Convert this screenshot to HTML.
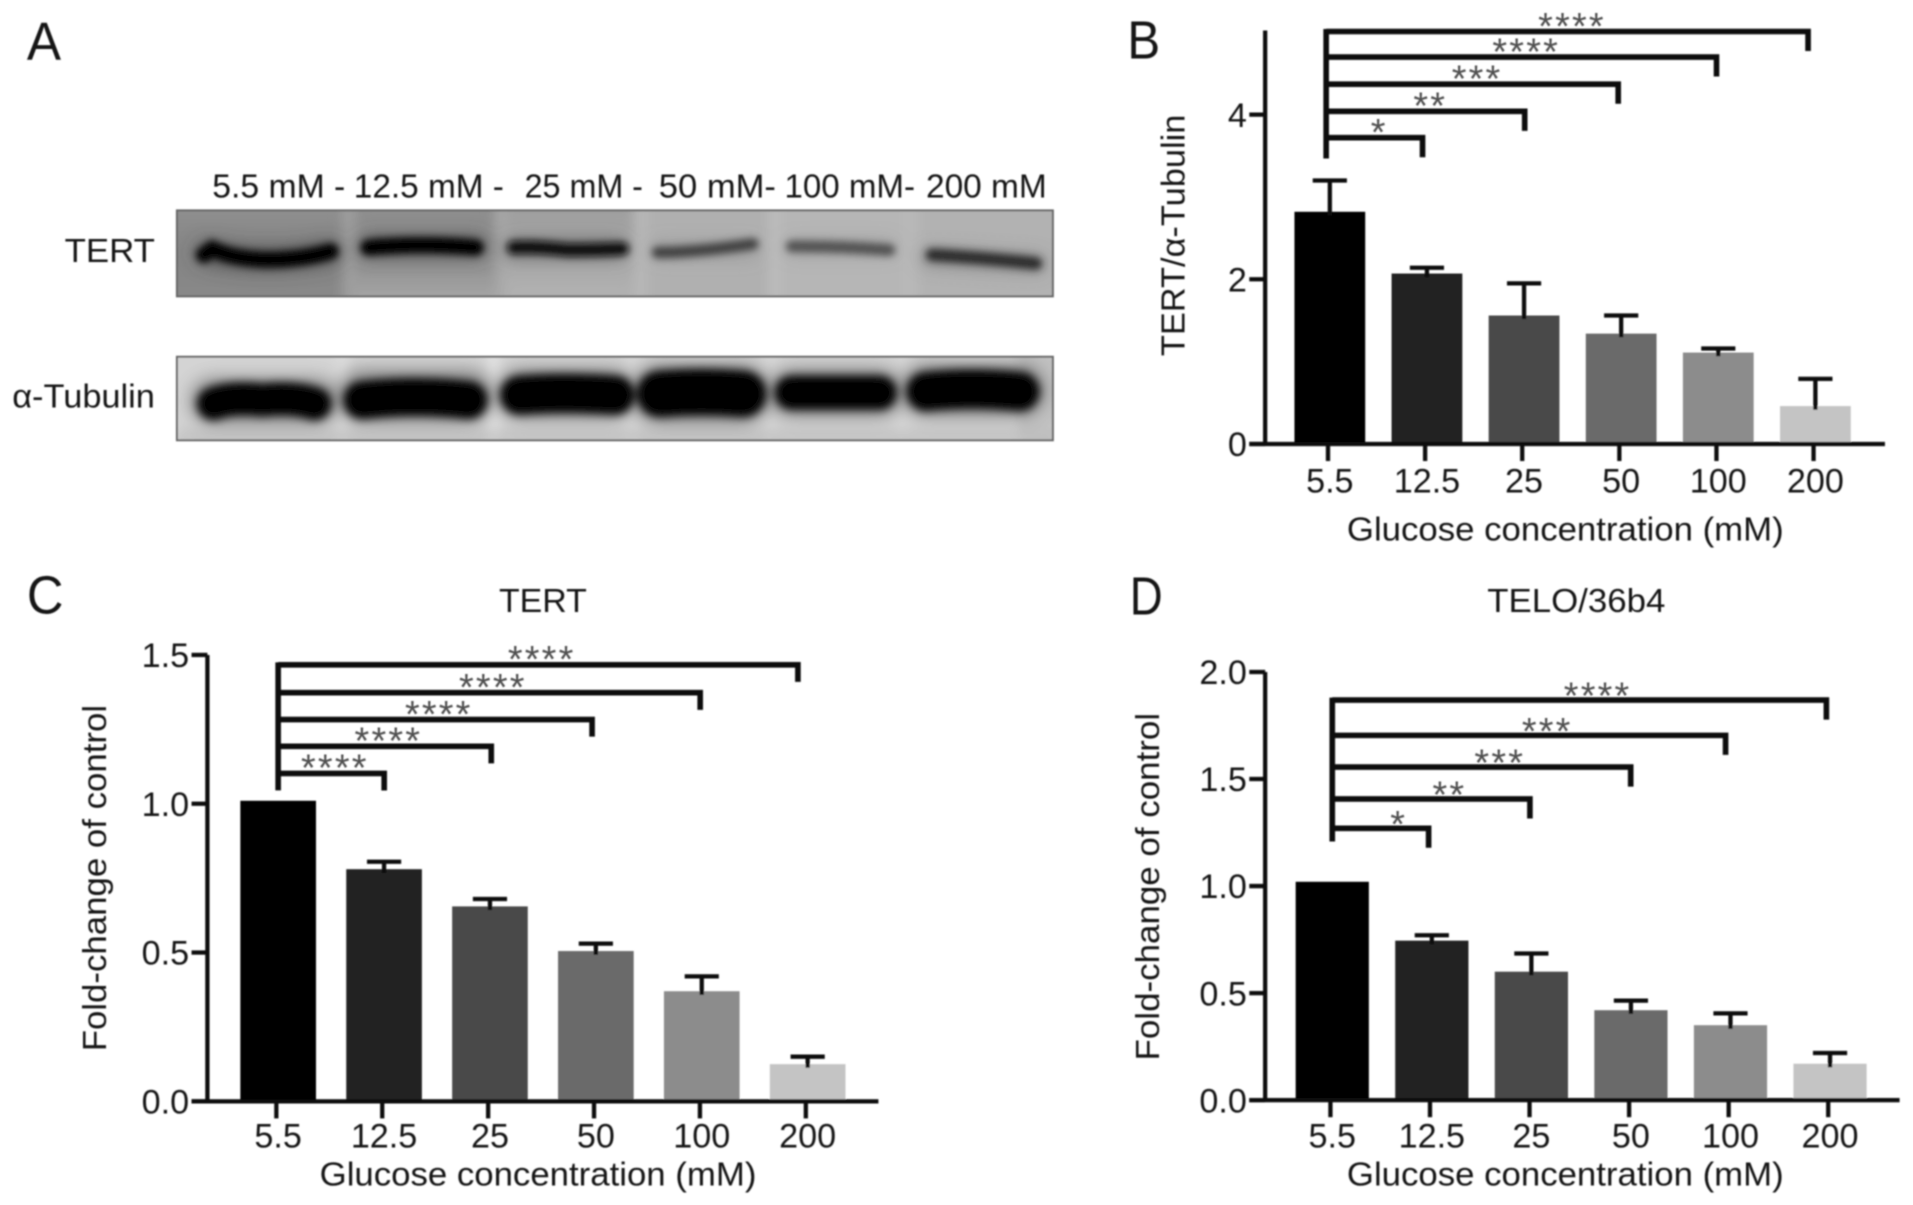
<!DOCTYPE html>
<html lang="en">
<head>
<meta charset="utf-8">
<title>Glucose concentration figure</title>
<style>
html,body{margin:0;padding:0;background:#fff;width:1913px;height:1205px;overflow:hidden}
svg{display:block}
text{font-family:"Liberation Sans",sans-serif;fill:#141414}
</style>
</head>
<body>
<svg id="fig" xmlns="http://www.w3.org/2000/svg" width="1913" height="1205" viewBox="0 0 1568 988" preserveAspectRatio="none">
<defs>
<filter id="soft" filterUnits="userSpaceOnUse" x="0" y="0" width="1568" height="988"><feGaussianBlur stdDeviation="0.6"/></filter>
<filter id="b2" filterUnits="userSpaceOnUse" x="0" y="100" width="1000" height="320"><feGaussianBlur stdDeviation="3"/></filter>
<filter id="b3" filterUnits="userSpaceOnUse" x="0" y="100" width="1000" height="320"><feGaussianBlur stdDeviation="3.6"/></filter>
<filter id="b4" filterUnits="userSpaceOnUse" x="0" y="100" width="1000" height="320"><feGaussianBlur stdDeviation="4.5"/></filter>
<filter id="b7" filterUnits="userSpaceOnUse" x="0" y="100" width="1000" height="320"><feGaussianBlur stdDeviation="7"/></filter>
<linearGradient id="laneDark" x1="0" x2="0" y1="0" y2="1"><stop offset="0" stop-color="#929292"/><stop offset=".5" stop-color="#848484"/><stop offset="1" stop-color="#8a8a8a"/></linearGradient>
<linearGradient id="laneTwo" x1="0" x2="0" y1="0" y2="1"><stop offset="0" stop-color="#8c8c8c"/><stop offset=".6" stop-color="#929292"/><stop offset="1" stop-color="#adadad"/></linearGradient>
<linearGradient id="laneThree" x1="0" x2="0" y1="0" y2="1"><stop offset="0" stop-color="#9c9c9c"/><stop offset="1" stop-color="#b4b4b4"/></linearGradient>
<clipPath id="clipT"><rect x="145" y="172.5" width="718" height="70.5"/></clipPath>
<clipPath id="clipU"><rect x="145" y="292.5" width="718" height="68.5"/></clipPath>
</defs>
<g id="root" filter="url(#soft)">
<g>
<text x="22" y="49" font-size="44" textLength="28" lengthAdjust="spacingAndGlyphs">A</text>
<g font-size="27">
<text x="174" y="162" textLength="109" lengthAdjust="spacingAndGlyphs">5.5 mM -</text>
<text x="290" y="162" textLength="123" lengthAdjust="spacingAndGlyphs">12.5 mM -</text>
<text x="430" y="162" textLength="97" lengthAdjust="spacingAndGlyphs">25 mM -</text>
<text x="540" y="162" textLength="96" lengthAdjust="spacingAndGlyphs">50 mM-</text>
<text x="643" y="162" textLength="107" lengthAdjust="spacingAndGlyphs">100 mM-</text>
<text x="759" y="162" textLength="99" lengthAdjust="spacingAndGlyphs">200 mM</text>
</g>
<text x="53" y="215" font-size="27" textLength="74" lengthAdjust="spacingAndGlyphs">TERT</text>
<text x="10" y="334" font-size="27" textLength="117" lengthAdjust="spacingAndGlyphs">α-Tubulin</text>

<g>
<rect x="145" y="172.5" width="718" height="70.5" fill="#b2b2b2"/>
<g clip-path="url(#clipT)">
<g filter="url(#b4)">
<rect x="130" y="160" width="151" height="96" fill="url(#laneDark)"/>
<rect x="281" y="160" width="10" height="96" fill="#9e9e9e"/>
<rect x="291" y="160" width="115" height="96" fill="url(#laneTwo)"/>
<rect x="406" y="160" width="8" height="96" fill="#a8a8a8"/>
<rect x="414" y="160" width="106" height="96" fill="url(#laneThree)"/>
<rect x="520" y="160" width="10" height="96" fill="#b8b8b8"/>
<rect x="530" y="160" width="100" height="96" fill="#b0b0b0"/>
<rect x="630" y="160" width="10" height="96" fill="#bcbcbc"/>
<rect x="640" y="160" width="100" height="96" fill="#b6b6b6"/>
<rect x="740" y="160" width="12" height="96" fill="#b9b9b9"/>
<rect x="752" y="160" width="125" height="96" fill="#b2b2b2"/>
</g>
<g fill="none" stroke-linecap="round" filter="url(#b7)">
<path d="M170 207 Q218 218 270 207" stroke="#444" stroke-width="20" opacity=".7"/>
<path d="M303 202 H390" stroke="#444" stroke-width="20" opacity=".65"/>
<path d="M421 204 H505" stroke="#555" stroke-width="18" opacity=".55"/>
<path d="M540 205 H615" stroke="#777" stroke-width="14" opacity=".35"/>
<path d="M650 203 H728" stroke="#777" stroke-width="14" opacity=".3"/>
<path d="M762 211 L850 216" stroke="#666" stroke-width="16" opacity=".45"/>
</g>
<g fill="none" stroke-linecap="round" filter="url(#b2)">
<path d="M167 209 L174 204 Q190 212 218 213 Q248 213 271 206" stroke="#000" stroke-width="13"/>
<path d="M302 203 Q345 199 390 203" stroke="#000" stroke-width="13"/>
<path d="M421 203 Q440 202 465 205 Q490 205 510 204" stroke="#0c0c0c" stroke-width="11"/>
<path d="M539 207 Q570 207 617 200" stroke="#404040" stroke-width="9.5"/>
<path d="M649 202 Q690 202 729 205" stroke="#505050" stroke-width="9.5"/>
<path d="M764 209 Q800 211 849 216" stroke="#2c2c2c" stroke-width="10.5"/>
</g>
</g>
<rect x="145" y="172.5" width="718" height="70.5" fill="none" stroke="#666" stroke-width="1.6"/>
</g>

<g>
<rect x="145" y="292.5" width="718" height="68.5" fill="#d4d4d4"/>
<g clip-path="url(#clipU)">
<g filter="url(#b4)">
<rect x="277" y="284" width="8" height="86" fill="#e0e0e0"/>
<rect x="400" y="284" width="9" height="86" fill="#e4e4e4"/>
<rect x="515" y="284" width="7" height="86" fill="#dcdcdc"/>
<rect x="628" y="284" width="7" height="86" fill="#dadada"/>
<rect x="737" y="284" width="6" height="86" fill="#dadada"/>
<rect x="145" y="352" width="718" height="14" fill="#bdbdbd" opacity=".7"/>
<rect x="835" y="284" width="40" height="86" fill="#bbb" opacity=".7"/>
</g>
<g fill="none" stroke-linecap="round" filter="url(#b7)" stroke="#555" opacity=".6">
<path d="M175 329 H258" stroke-width="38"/>
<path d="M298 325 H383" stroke-width="44"/>
<path d="M428 323 H500" stroke-width="42"/>
<path d="M542 323 H607" stroke-width="50"/>
<path d="M650 322 H720" stroke-width="40"/>
<path d="M760 320 H835" stroke-width="44"/>
</g>
<g fill="none" stroke-linecap="round" filter="url(#b3)" stroke="#000">
<path d="M175 331 Q190 325 215 328 Q240 325 258 331" stroke-width="27"/>
<path d="M297 328 Q340 323 384 328" stroke-width="31"/>
<path d="M426 324 Q460 321 504 324" stroke-width="32"/>
<path d="M541 323 Q575 320 609 323" stroke-width="38"/>
<path d="M649 322 H721" stroke-width="28"/>
<path d="M759 321 Q795 317 836 321" stroke-width="32"/>
</g>
</g>
<rect x="145" y="292.5" width="718" height="68.5" fill="none" stroke="#666" stroke-width="1.6"/>
</g>
</g>
<text x="924" y="48" font-size="44" textLength="27" lengthAdjust="spacingAndGlyphs">B</text>
<text x="22" y="503" font-size="44" textLength="30" lengthAdjust="spacingAndGlyphs">C</text>
<text x="926" y="504" font-size="44" textLength="27" lengthAdjust="spacingAndGlyphs">D</text>
<text x="445" y="502" font-size="27" text-anchor="middle" textLength="72" lengthAdjust="spacingAndGlyphs">TERT</text>
<text x="1292" y="502" font-size="27" text-anchor="middle" textLength="146" lengthAdjust="spacingAndGlyphs">TELO/36b4</text>
</g>
</svg>
<script>
const categories = ['5.5', '12.5', '25', '50', '100', '200'];
const barShades = ['#000000', '#222222', '#4a4a4a', '#6a6a6a', '#8c8c8c', '#c4c4c4'];

const valuesB = [2.82, 2.07, 1.56, 1.34, 1.11, 0.46];
const upperB = [3.2, 2.14, 1.95, 1.56, 1.16, 0.79];
const ticksB = [0, 2, 4];
const tickLabelsB = ['0', '2', '4'];
const sigLevelsB = [3.72, 4.04, 4.37, 4.70, 5.01];
const sigEndsB = [1, 2.06, 3.03, 4.05, 5];
const sigStarsB = ['*', '**', '***', '****', '****'];

const valuesC = [1.01, 0.78, 0.655, 0.505, 0.37, 0.125];
const upperC = [1.01, 0.805, 0.68, 0.53, 0.42, 0.15];
const ticksC = [0, 0.5, 1, 1.5];
const tickLabelsC = ['0.0', '0.5', '1.0', '1.5'];
const sigLevelsC = [1.102, 1.193, 1.283, 1.373, 1.467];
const sigEndsC = [1.02, 2.05, 3.02, 4.06, 5];
const sigStarsC = ['****', '****', '****', '****', '****'];

const valuesD = [1.02, 0.745, 0.6, 0.42, 0.35, 0.17];
const upperD = [1.02, 0.77, 0.685, 0.465, 0.405, 0.22];
const ticksD = [0, 0.5, 1, 1.5, 2];
const tickLabelsD = ['0.0', '0.5', '1.0', '1.5', '2.0'];
const sigLevelsD = [1.27, 1.407, 1.556, 1.704, 1.869];
const sigEndsD = [0.975, 2, 3.02, 3.98, 5];
const sigStarsD = ['*', '**', '***', '***', '****'];

const panels = [
  { id: 'b', values: valuesB, upper: upperB, ticks: ticksB, tickLabels: tickLabelsB, levels: sigLevelsB, ends: sigEndsB, stars: sigStarsB,
    axisX: 1037, y0: 364, yPerUnit: 67.5, top: 25, xEnd: 1545, first: 1090, step: 79.6, barW: 58,
    brFirst: 1087, brStep: 79, starShift: 4, starRise: 12, drop: 16, stem: 130,
    xLabelX: 1283, xLabelY: 443, tickY: 404, yTitle: 'TERT/α-Tubulin', yTitleX: 971, yTitleY: 193, yTitleLen: 198 },
  { id: 'c', values: valuesC, upper: upperC, ticks: ticksC, tickLabels: tickLabelsC, levels: sigLevelsC, ends: sigEndsC, stars: sigStarsC,
    axisX: 170, y0: 903, yPerUnit: 244, top: 537, xEnd: 720, first: 228, step: 86.8, barW: 62,
    brFirst: 228, brStep: 85.2, starShift: 3, starRise: 12, drop: 14, stem: 648,
    xLabelX: 441, xLabelY: 972, tickY: 941, yTitle: 'Fold-change of control', yTitleX: 87, yTitleY: 720, yTitleLen: 284 },
  { id: 'd', values: valuesD, upper: upperD, ticks: ticksD, tickLabels: tickLabelsD, levels: sigLevelsD, ends: sigEndsD, stars: sigStarsD,
    axisX: 1037, y0: 902, yPerUnit: 175.5, top: 551, xEnd: 1557, first: 1092, step: 81.6, barW: 60,
    brFirst: 1092, brStep: 81, starShift: 15, starRise: 11, drop: 16, stem: 690,
    xLabelX: 1283, xLabelY: 972, tickY: 941, yTitle: 'Fold-change of control', yTitleX: 950, yTitleY: 727, yTitleLen: 285 }
];

const NS = 'http://www.w3.org/2000/svg';
const root = document.getElementById('root');

function make(tag, attrs, parent, txt) {
  const node = document.createElementNS(NS, tag);
  for (const k in attrs) node.setAttribute(k, attrs[k]);
  if (txt !== undefined) node.textContent = txt;
  parent.appendChild(node);
  return node;
}

panels.forEach(function (p) {
  const yScale = function (v) { return p.y0 - v * p.yPerUnit; };
  const xScale = function (i) { return p.first + i * p.step; };
  const brX = function (i) { return p.brFirst + i * p.brStep; };

  const g = make('g', {}, root);
  
  

  p.values.forEach(function (v, i) {
    const bar = make('rect', { x: xScale(i) - p.barW / 2, y: yScale(v), width: p.barW, height: p.y0 - yScale(v), fill: barShades[i] }, g);
    
    
    if (p.upper[i] > v) {
      const err = make('path', { d: 'M' + xScale(i) + ' ' + (yScale(v) + 3) + 'V' + yScale(p.upper[i]) + 'M' + (xScale(i) - 14) + ' ' + yScale(p.upper[i]) + 'H' + (xScale(i) + 14), stroke: '#0c0c0c', 'stroke-width': 3.5, fill: 'none' }, g);
      
      
    }
  });

  const yAxis = make('line', { x1: p.axisX, x2: p.axisX, y1: p.top, y2: p.y0 + 1.5, stroke: '#0c0c0c', 'stroke-width': 3.5 }, g);
  
  
  const xAxis = make('line', { x1: p.axisX - 13, x2: p.xEnd, y1: p.y0, y2: p.y0, stroke: '#0c0c0c', 'stroke-width': 3.5 }, g);
  
  

  p.ticks.forEach(function (t, i) {
    const tick = make('line', { x1: p.axisX - 13, x2: p.axisX, y1: yScale(t), y2: yScale(t), stroke: '#0c0c0c', 'stroke-width': 3.5 }, g);
    
    
    const lab = make('text', { x: p.axisX - 15, y: yScale(t) + 10, 'font-size': 28, 'text-anchor': 'end' }, g, p.tickLabels[i]);
    
    
  });

  categories.forEach(function (c, i) {
    const tick = make('line', { x1: xScale(i) - 1.5, x2: xScale(i) - 1.5, y1: p.y0, y2: p.y0 + 14, stroke: '#0c0c0c', 'stroke-width': 3.5 }, g);
    
    
    const lab = make('text', { x: xScale(i), y: p.tickY, 'font-size': 28, 'text-anchor': 'middle' }, g, c);
    
    
  });

  const xTitle = make('text', { x: p.xLabelX, y: p.xLabelY, 'font-size': 27, 'text-anchor': 'middle', textLength: 358, lengthAdjust: 'spacingAndGlyphs' }, g, 'Glucose concentration (mM)');
  
  
  const yTitle = make('text', { transform: 'translate(' + p.yTitleX + ' ' + p.yTitleY + ') rotate(-90)', 'font-size': 27, 'text-anchor': 'middle', textLength: p.yTitleLen, lengthAdjust: 'spacingAndGlyphs' }, g, p.yTitle);
  
  

  p.levels.forEach(function (lv, i) {
    const mid = (brX(0) + brX(p.ends[i])) / 2 + p.starShift;
    const y = yScale(lv);
    const stars = make('text', { x: mid, y: y - p.starRise + 18, 'font-size': 31, 'text-anchor': 'middle', 'letter-spacing': 1.8, style: 'fill:#505050' }, g, p.stars[i]);
    
    
    const br = make('path', { d: 'M' + brX(0) + ' ' + y + 'H' + brX(p.ends[i]) + 'V' + (y + p.drop), stroke: '#0c0c0c', 'stroke-width': 4.6, fill: 'none' }, g);
    
    
  });
  const stem = make('line', { x1: brX(0), x2: brX(0), y1: yScale(p.levels[p.levels.length - 1]) - 2, y2: p.stem, stroke: '#0c0c0c', 'stroke-width': 4.6 }, g);
  
  
});
</script>
</body>
</html>
